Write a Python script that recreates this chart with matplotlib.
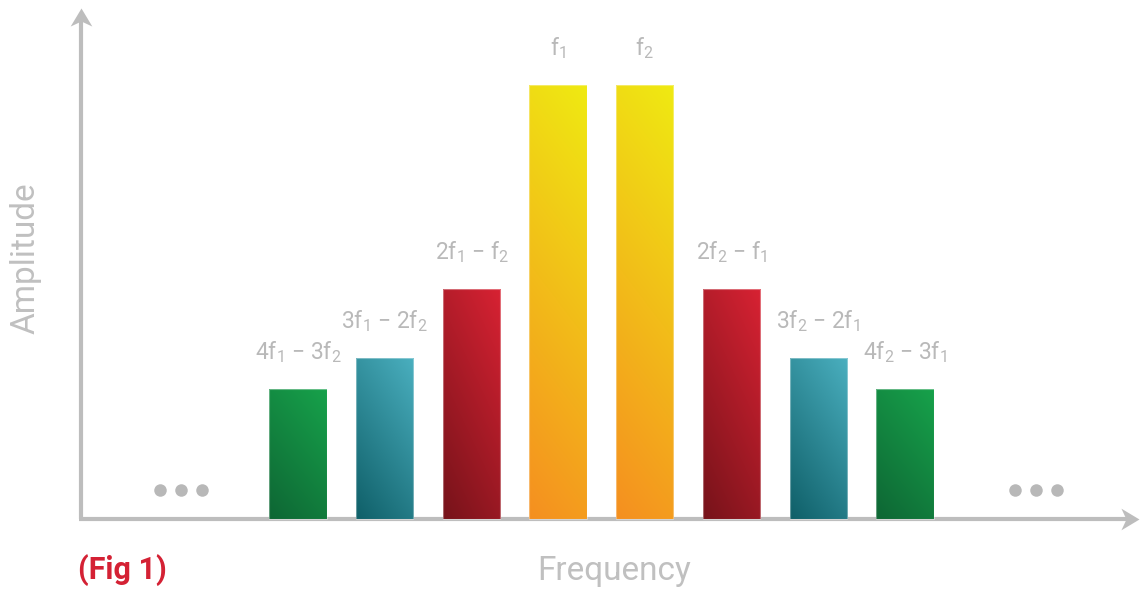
import numpy as np
import matplotlib
matplotlib.use("Agg")
import matplotlib.pyplot as plt
from matplotlib.colors import LinearSegmentedColormap
from matplotlib.path import Path

plt.rcParams['font.family'] = ['Roboto', 'DejaVu Sans']
plt.rcParams['mathtext.default'] = 'regular'

# ---- data ----
labels = [r'4f$_1$ − 3f$_2$', r'3f$_1$ − 2f$_2$', r'2f$_1$ − f$_2$', r'f$_1$',
          r'f$_2$', r'2f$_2$ − f$_1$', r'3f$_2$ − 2f$_1$', r'4f$_2$ − 3f$_1$']
amplitudes = [30, 37, 53, 100, 100, 53, 37, 30]
kinds = ['green', 'teal', 'red', 'yellow', 'yellow', 'red', 'teal', 'green']
gradients = {
    'green': ('#0e6634', '#17a24b'),
    'teal': ('#0f5f68', '#4aafbf'),
    'red': ('#76131a', '#d82233'),
    'yellow': ('#f58f20', '#efea12'),
}
x_title = 'Frequency'
y_title = 'Amplitude'
fig_label = '(Fig 1)'

W, H = 1140, 591
fig = plt.figure(figsize=(W / 100, H / 100), dpi=100)
ax = fig.add_axes([0, 0, 1, 1])
ax.axis('off')

# mapping: category spacing 86.7 px, first center at 298 px, baseline 519 px, 4.34 px per unit
sx, x0px, base_px, sy = 86.7, 298, 519, 4.34
ax.set_xlim((0 - x0px) / sx, (W - x0px) / sx)
ax.set_ylim(-(H - base_px) / sy, base_px / sy)

xs = np.arange(len(amplitudes))
bars = ax.bar(xs, amplitudes, width=0.66, color='none', edgecolor='none', zorder=2)

# gradient fill
n = 200
u = np.linspace(0, 1, n)[None, :]
v = np.linspace(0, 1, n)[:, None]
for b, k in zip(bars, kinds):
    lo, hi = gradients[k]
    cmap = LinearSegmentedColormap.from_list(k, [lo, hi])
    if k == 'yellow':
        t = 0.85 * v + 0.15 * u
    else:
        t = 0.65 * v + 0.35 * u
    t = (t - t.min()) / (t.max() - t.min())
    x, w, h = b.get_x(), b.get_width(), b.get_height()
    im = ax.imshow(t, cmap=cmap, extent=[x, x + w, 0, h], origin='lower',
                   aspect='auto', zorder=2, interpolation='bilinear')
    im.set_clip_path(b)
    ax.add_patch(plt.Rectangle((x, 0), w, h, fill=False, edgecolor=(1, 1, 1, 0.35),
                               lw=0.8, zorder=3))

ax.set_xlim((0 - x0px) / sx, (W - x0px) / sx)
ax.set_ylim(-(H - base_px) / sy, base_px / sy)

# labels above bars
for b, lab in zip(bars, labels):
    ax.annotate(lab, (b.get_x() + b.get_width() / 2, b.get_height()),
                xytext=(0, 30), textcoords='offset pixels', ha='center',
                va='baseline', fontsize=16.5, color='#b9b9b9')

# axes with arrowheads
axis_col = '#bdbdbd'
xa0 = (81 - x0px) / sx
ytip = (base_px - 8) / sy
xtip = (1139 - x0px) / sx
ax.plot([xa0, xa0], [0, ytip - 2], color=axis_col, lw=3.0, solid_capstyle='butt', zorder=1)
ax.plot([xa0 - 0.02, xtip - 0.1], [0, 0], color=axis_col, lw=3.0, solid_capstyle='butt', zorder=1)
head_r = Path([(0, 0), (-1, 0.6), (-0.72, 0), (-1, -0.6), (0, 0)],
              [Path.MOVETO, Path.LINETO, Path.LINETO, Path.LINETO, Path.CLOSEPOLY])
head_u = Path([(0, 0), (0.6, -1), (0, -0.72), (-0.6, -1), (0, 0)],
              [Path.MOVETO, Path.LINETO, Path.LINETO, Path.LINETO, Path.CLOSEPOLY])
ax.plot([xtip], [0], marker=head_r, ms=26, color=axis_col, mec='none', zorder=1)
ax.plot([xa0], [ytip], marker=head_u, ms=26, color=axis_col, mec='none', zorder=1)

# ellipsis dots
dot_y = (base_px - 490) / sy
left_dots = np.array([-1.59, -1.35, -1.11])
right_dots = np.array([8.27, 8.51, 8.75])
ax.plot(left_dots, [dot_y] * 3, 'o', color='#b8b8b8', ms=9, mec='none')
ax.plot(right_dots, [dot_y] * 3, 'o', color='#b8b8b8', ms=9, mec='none')

# titles
fig.text(614 / W, 1 - 571 / H, x_title, ha='center', va='center', fontsize=24, color='#c0c0c0')
fig.text(26 / W, 1 - 258 / H, y_title, ha='center', va='center', rotation=90,
         fontsize=24, color='#c0c0c0')
fig.text(78 / W, 1 - 570 / H, fig_label, ha='left', va='center', fontsize=22,
         fontweight='bold', color='#d42134')

fig.savefig('out.png', dpi=100)
